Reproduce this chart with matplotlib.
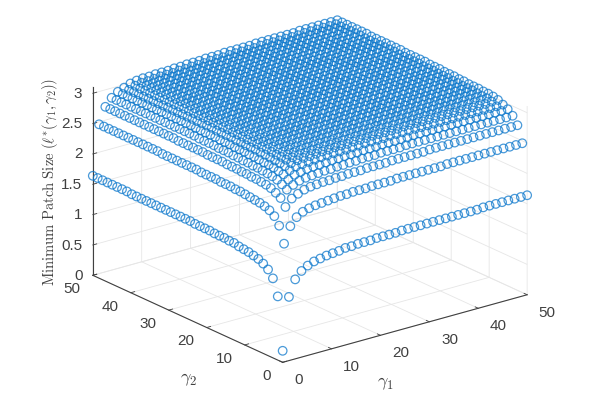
"""Minimum patch size over the two gamma parameters, as an open circle 3D scatter."""

import matplotlib

matplotlib.use("Agg")
import matplotlib.pyplot as plt
import numpy as np

plt.rcParams["font.family"] = ["Liberation Sans", "DejaVu Sans"]
plt.rcParams["mathtext.fontset"] = "cm"

gamma_grid = np.linspace(0, 50, 40)

# upper triangle of the surface (it is symmetric in gamma1, gamma2)
# row i holds the values for j = i .. 39
row_00 = [0.19, 1.05, 1.31, 1.42, 1.48, 1.52, 1.54, 1.56, 1.57, 1.58] + [1.60] * 2 + [1.61] * 3 + [1.62] * 4 + [1.63] * 13 + [1.64] * 8
row_01 = [1.89, 2.15, 2.27, 2.33, 2.36, 2.38, 2.39, 2.40, 2.41, 2.42, 2.42] + [2.43] * 3 + [2.44] * 4 + [2.45] * 8 + [2.46] * 13
row_02 = [2.43, 2.54, 2.59, 2.63, 2.65, 2.66, 2.67, 2.67, 2.68, 2.68] + [2.69] * 3 + [2.70] * 4 + [2.71] * 6 + [2.72] * 15
row_03 = [2.65, 2.70, 2.74, 2.76, 2.77, 2.78, 2.79, 2.79] + [2.80] * 2 + [2.81] * 2 + [2.82] * 3 + [2.83] * 4 + [2.84] * 18
row_04 = [2.75, 2.80, 2.82, 2.84, 2.85, 2.85, 2.86] + [2.87] * 2 + [2.88] * 3 + [2.89] * 3 + [2.90] * 5 + [2.91] * 16
row_05 = [2.84, 2.87, 2.88, 2.89, 2.90] + [2.91] * 2 + [2.92] * 3 + [2.93] * 2 + [2.94] * 4 + [2.95] * 19
row_06 = [2.89, 2.91, 2.92, 2.92, 2.93, 2.94, 2.94] + [2.95] * 3 + [2.96] * 3 + [2.97] * 5 + [2.98] * 14 + [2.99] * 2
row_07 = [2.92, 2.93, 2.94] + [2.95] * 2 + [2.96] * 3 + [2.97] * 2 + [2.98] * 4 + [2.99] * 7 + [3.00] * 10 + [3.01] * 2
row_08 = [2.94, 2.95, 2.96, 2.96] + [2.97] * 3 + [2.98] * 2 + [2.99] * 4 + [3.00] * 7 + [3.01] * 11 + [3.02]
row_09 = [2.96, 2.96, 2.97, 2.97, 2.98, 2.98, 2.99, 2.99, 2.99, 3.00, 3.00, 3.00, 3.00] + [3.01] * 10 + [3.02] * 8
row_10 = [2.97, 2.98, 2.98, 2.99, 2.99, 2.99, 3.00, 3.00, 3.00, 3.01, 3.01, 3.01, 3.01, 3.01] + [3.02] * 12 + [3.03] * 4
row_11 = [2.98, 2.99, 2.99, 2.99, 3.00, 3.00, 3.01, 3.01, 3.01, 3.01] + [3.02] * 7 + [3.03] * 12
row_12 = [2.99, 3.00, 3.00, 3.00, 3.01, 3.01, 3.01] + [3.02] * 6 + [3.03] * 15
row_13 = [3.00, 3.00, 3.01, 3.01, 3.02, 3.02, 3.02, 3.02] + [3.03] * 10 + [3.04] * 9
row_14 = [3.01, 3.01, 3.02, 3.02, 3.02, 3.02] + [3.03] * 8 + [3.04] * 12
row_15 = [3.02, 3.02, 3.02] + [3.03] * 5 + [3.04] * 11 + [3.05] * 6
row_16 = [3.02, 3.03, 3.03, 3.03] + [3.04] * 10 + [3.05] * 10
row_17 = [3.03, 3.03] + [3.04] * 7 + [3.05] * 14
row_18 = [3.04] * 5 + [3.05] * 14 + [3.06] * 3
row_19 = [3.04] * 2 + [3.05] * 10 + [3.06] * 9
row_20 = [3.05] * 8 + [3.06] * 12
row_21 = [3.05] * 4 + [3.06] * 11 + [3.07] * 4
row_22 = [3.05] * 2 + [3.06] * 10 + [3.07] * 6
row_23 = [3.06] * 9 + [3.07] * 8
row_24 = [3.06] * 6 + [3.07] * 10
row_25 = [3.06] * 4 + [3.07] * 11
row_26 = [3.06] + [3.07] * 11 + [3.08] * 2
row_27 = [3.07] * 7 + [3.08] * 6
row_28 = [3.07] * 5 + [3.08] * 7
row_29 = [3.07] * 3 + [3.08] * 8
row_30 = [3.07] * 2 + [3.08] * 8
row_31 = [3.08] * 9
row_32 = [3.08] * 8
row_33 = [3.08] * 4 + [3.09] * 3
row_34 = [3.08] * 2 + [3.09] * 4
row_35 = [3.08] + [3.09] * 4
row_36 = [3.09] * 4
row_37 = [3.09] * 3
row_38 = [3.09] * 2
row_39 = [3.09]

surface_rows = [
    row_00, row_01, row_02, row_03, row_04, row_05, row_06, row_07, row_08, row_09,
    row_10, row_11, row_12, row_13, row_14, row_15, row_16, row_17, row_18, row_19,
    row_20, row_21, row_22, row_23, row_24, row_25, row_26, row_27, row_28, row_29,
    row_30, row_31, row_32, row_33, row_34, row_35, row_36, row_37, row_38, row_39,
]

xy_ticks = [0, 10, 20, 30, 40, 50]
z_ticks = [0, 0.5, 1, 1.5, 2, 2.5, 3]
z_tick_labels = ["0", "0.5", "1", "1.5", "2", "2.5", "3"]

MARKER_EDGE = (0.05, 0.47, 0.80, 0.75)
TICK_GREY = "#404040"
GRID_GREY = "#e6e6e6"

z_values = np.zeros((40, 40))
for i, row in enumerate(surface_rows):
    z_values[i, i:] = row
    z_values[i:, i] = row
gamma_1, gamma_2 = np.meshgrid(gamma_grid, gamma_grid, indexing="ij")

fig = plt.figure(figsize=(5.9, 4.06), dpi=100)
ax = fig.add_axes([109.7 / 590, 14.05 / 406, 390 / 590, 390 / 406], projection="3d")
ax.set_proj_type("ortho")
ax.view_init(elev=20.85, azim=-127.83)
ax.set_box_aspect((309.5, 309.5, 201.9), zoom=1.2)

points = ax.scatter(gamma_1.ravel(), gamma_2.ravel(), z_values.ravel(), s=38, facecolors="none",
                    edgecolors=[MARKER_EDGE], linewidths=0.9, depthshade=False)
points.set_clip_on(False)

ax.set_xlim(0, 50)
ax.set_ylim(0, 50)
ax.set_zlim(0, 3.11)
ax.set_xticks(xy_ticks)
ax.set_yticks(xy_ticks)
ax.set_zticks(z_ticks)
ax.set_zticklabels(z_tick_labels)

for axis in (ax.xaxis, ax.yaxis, ax.zaxis):
    axis.set_pane_color((1, 1, 1, 1))
    axis.pane.set_edgecolor("none")
    axis.line.set_color(TICK_GREY)
    axis.line.set_linewidth(0.8)
    axis._axinfo["grid"].update(color=GRID_GREY, linewidth=0.6)
    axis._axinfo["tick"].update(inward_factor=0.0, outward_factor=0.2, linewidth={True: 0.6, False: 0.6})
ax.tick_params(colors=TICK_GREY, labelsize=11)
ax.tick_params(axis="x", pad=1)
ax.tick_params(axis="y", pad=-0.7)
ax.tick_params(axis="z", pad=-4.5)

for labels, ha in [
    (ax.get_xticklabels(), "left"),
    (ax.get_yticklabels(), "right"),
    (ax.get_zticklabels(), "right"),
]:
    for label in labels:
        label.set_ha(ha)
        label.set_va("center")

fig.text(385 / 590, 1 - 384 / 406, r"$\gamma_1$", fontsize=13, color=TICK_GREY, ha="center", va="center")
fig.text(189 / 590, 1 - 380 / 406, r"$\gamma_2$", fontsize=13, color=TICK_GREY, ha="center", va="center")
fig.text(50 / 590, 1 - 181.5 / 406, r"$\mathrm{Minimum\ Patch\ Size}\ (\ell^{*}(\gamma_1,\gamma_2))$",
         fontsize=10.5, color=TICK_GREY, rotation=90, ha="center", va="center")

fig.savefig("out.png", dpi=100)
